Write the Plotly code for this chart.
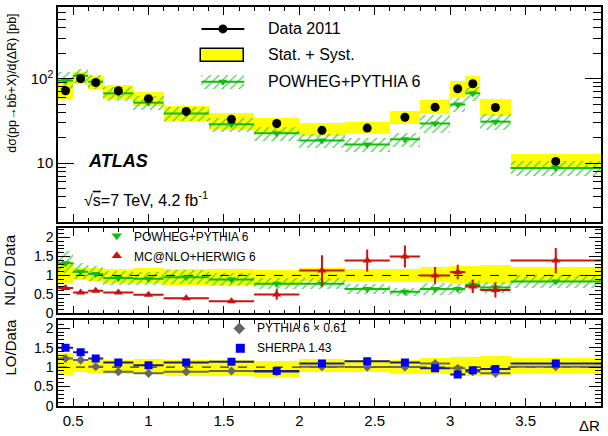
import plotly.graph_objects as go

# ---------------- data ----------------
bin_edges = [0.4, 0.5, 0.6, 0.7, 0.9, 1.1, 1.4, 1.7, 2.0, 2.3, 2.6, 2.8, 3.0, 3.1, 3.2, 3.4, 4.0]

data_xsec = [72, 100, 90, 72, 58, 41, 33, 29.5, 24.5, 26, 35, 46, 76, 87, 45.6, 10.5]
data_lo = [57, 87, 76, 58, 47, 31, 25, 22, 21, 22.5, 28.8, 37.7, 60, 66, 36, 8.8]
data_hi = [97, 121, 108, 85, 70, 48, 39, 34, 29.5, 30.4, 41, 56.6, 95, 108, 58, 12.8]

powheg_xsec = [95, 108, 92, 67, 52, 38.8, 28.8, 22.6, 18.6, 16.7, 19.2, 29.5, 49.4, 67, 31, 8.8]
powheg_up = [1.25, 1.2, 1.2, 1.2, 1.2, 1.2, 1.2, 1.2, 1.2, 1.2, 1.2, 1.25, 1.2, 1.2, 1.22, 1.22]
powheg_dn = [0.8, 0.82, 0.82, 0.82, 0.82, 0.82, 0.82, 0.82, 0.82, 0.82, 0.82, 0.78, 0.82, 0.82, 0.8, 0.8]

powheg_ratio = [1.32, 1.10, 1.04, 0.93, 0.91, 0.95, 0.89, 0.78, 0.78, 0.64, 0.57, 0.64, 0.64, 0.75, 0.68, 0.84]
mcnlo_ratio = [0.67, 0.55, 0.60, 0.55, 0.49, 0.40, 0.32, 0.50, 1.13, 1.39, 1.50, 1.00, 1.09, 0.71, 0.62, 1.39]
mcnlo_err = [0.04, 0.03, 0.04, 0.03, 0.03, 0.03, 0.03, 0.14, 0.40, 0.29, 0.29, 0.22, 0.19, 0.17, 0.20, 0.33]

pythia_ratio = [1.22, 1.18, 1.01, 0.88, 0.84, 0.88, 0.90, 0.88, 1.01, 1.00, 1.00, 1.09, 0.97, 0.88, 0.84, 1.01]
pythia_err = [0.05, 0.04, 0.04, 0.04, 0.03, 0.03, 0.03, 0.03, 0.04, 0.04, 0.04, 0.05, 0.05, 0.05, 0.05, 0.05]
sherpa_ratio = [1.50, 1.38, 1.22, 1.12, 1.05, 1.12, 1.14, 0.90, 1.09, 1.15, 1.12, 0.97, 0.81, 0.92, 0.95, 1.09]
sherpa_err = [0.08, 0.07, 0.07, 0.05, 0.05, 0.05, 0.06, 0.04, 0.05, 0.06, 0.06, 0.06, 0.06, 0.06, 0.07, 0.07]

main_ytick_vals = [10, 100]
main_ytick_text = ["10", "10<sup>2</sup>"]
ratio_tick_vals = [0, 0.5, 1, 1.5, 2]
ratio_tick_text = ["0", "0.5", "1", "1.5", "2"]
x_tick_vals = [0.5, 1, 1.5, 2, 2.5, 3, 3.5]
x_tick_text = ["0.5", "1", "1.5", "2", "2.5", "3", "3.5"]

# ---------------- derived geometry ----------------
centers = [(a + b) / 2 for a, b in zip(bin_edges[:-1], bin_edges[1:])]
widths = [b - a for a, b in zip(bin_edges[:-1], bin_edges[1:])]
halfw = [w / 2 for w in widths]

FONT = "Liberation Sans, Arial, sans-serif"
GREEN = "#11bb11"
GREEN_L = "#44cc44"
RED = "#cc1111"
BLUE = "#0000ee"
NAVY = "#1c1c8c"
GREY = "#666666"
YELLOW = "#ffff00"

W, H = 608, 436
ML, MR, MT, MB = 58, 5, 5, 30
PW, PH = W - ML - MR, H - MT - MB


def px(x):
    return (x - ML) / PW


def py(y):
    return (H - MB - y) / PH


hatch = dict(shape="/", fgcolor=GREEN_L, bgcolor="rgba(0,0,0,0)", size=6, solidity=0.2, fillmode="replace")

fig = go.Figure()

# ---------------- main panel ----------------
fig.add_trace(go.Bar(x=centers, width=widths, base=data_lo,
                     y=[h - l for h, l in zip(data_hi, data_lo)],
                     marker=dict(color=YELLOW, line=dict(width=0)),
                     xaxis="x", yaxis="y", showlegend=False))
pw_lo = [v * d for v, d in zip(powheg_xsec, powheg_dn)]
pw_hi = [v * u for v, u in zip(powheg_xsec, powheg_up)]
fig.add_trace(go.Bar(x=centers, width=widths, base=pw_lo,
                     y=[h - l for h, l in zip(pw_hi, pw_lo)],
                     marker=dict(color="rgba(0,0,0,0)", line=dict(width=0), pattern=hatch),
                     xaxis="x", yaxis="y", showlegend=False))
fig.add_trace(go.Scatter(x=centers, y=powheg_xsec, mode="markers",
                         marker=dict(symbol="triangle-down", size=8, color=GREEN),
                         error_x=dict(type="data", array=halfw, width=0, thickness=2, color=GREEN),
                         xaxis="x", yaxis="y", showlegend=False))
fig.add_trace(go.Scatter(x=centers, y=data_xsec, mode="markers",
                         marker=dict(symbol="circle", size=9, color="black"),
                         xaxis="x", yaxis="y", showlegend=False))

# ---------------- NLO / Data panel ----------------
band_lo = [l / d for l, d in zip(data_lo, data_xsec)]
band_hi = [h / d for h, d in zip(data_hi, data_xsec)]
for ax in ("2", "3"):
    fig.add_trace(go.Bar(x=centers, width=widths, base=band_lo,
                         y=[h - l for h, l in zip(band_hi, band_lo)],
                         marker=dict(color=YELLOW, line=dict(width=0)),
                         xaxis="x" + ax, yaxis="y" + ax, showlegend=False))

pr_lo = [v * d for v, d in zip(powheg_ratio, powheg_dn)]
pr_hi = [v * u for v, u in zip(powheg_ratio, powheg_up)]
fig.add_trace(go.Bar(x=centers, width=widths, base=pr_lo,
                     y=[h - l for h, l in zip(pr_hi, pr_lo)],
                     marker=dict(color="rgba(0,0,0,0)", line=dict(width=0), pattern=hatch),
                     xaxis="x2", yaxis="y2", showlegend=False))
for ax in ("2", "3"):
    fig.add_trace(go.Scatter(x=[bin_edges[0], bin_edges[-1]], y=[1, 1], mode="lines",
                             line=dict(color="black", width=1, dash="dash"),
                             xaxis="x" + ax, yaxis="y" + ax, showlegend=False))
fig.add_trace(go.Scatter(x=centers, y=powheg_ratio, mode="markers",
                         marker=dict(symbol="triangle-down", size=8, color=GREEN),
                         error_x=dict(type="data", array=halfw, width=0, thickness=2, color=GREEN),
                         xaxis="x2", yaxis="y2", showlegend=False))
fig.add_trace(go.Scatter(x=centers, y=mcnlo_ratio, mode="markers",
                         marker=dict(symbol="triangle-up", size=8, color=RED),
                         error_x=dict(type="data", array=halfw, width=0, thickness=2, color=RED),
                         error_y=dict(type="data", array=mcnlo_err, width=0, thickness=2, color=RED),
                         xaxis="x2", yaxis="y2", showlegend=False))

# ---------------- LO / Data panel ----------------
fig.add_trace(go.Scatter(x=centers, y=pythia_ratio, mode="markers",
                         marker=dict(symbol="diamond", size=7, color=GREY),
                         error_x=dict(type="data", array=halfw, width=0, thickness=2, color=GREY),
                         error_y=dict(type="data", array=pythia_err, width=0, thickness=2, color=GREY),
                         xaxis="x3", yaxis="y3", showlegend=False))
fig.add_trace(go.Scatter(x=centers, y=sherpa_ratio, mode="markers",
                         marker=dict(symbol="square", size=8, color=BLUE),
                         error_x=dict(type="data", array=halfw, width=0, thickness=2, color=NAVY),
                         error_y=dict(type="data", array=sherpa_err, width=0, thickness=2, color=BLUE),
                         xaxis="x3", yaxis="y3", showlegend=False))

# ---------------- legend glyphs (pixel overlay axis) ----------------
fig.add_trace(go.Scatter(x=[202, 245], y=[27, 27], mode="lines", line=dict(color="black", width=2),
                         xaxis="x4", yaxis="y4", showlegend=False))
fig.add_trace(go.Scatter(x=[223.5], y=[27], mode="markers", marker=dict(size=9, color="black"),
                         xaxis="x4", yaxis="y4", showlegend=False))
fig.add_trace(go.Bar(x=[223.5], width=[43], base=[47], y=[13],
                     marker=dict(color=YELLOW, line=dict(color="black", width=1.5)),
                     xaxis="x4", yaxis="y4", showlegend=False))
fig.add_trace(go.Bar(x=[223.5], width=[43], base=[73], y=[14],
                     marker=dict(color="rgba(0,0,0,0)", line=dict(width=0), pattern=hatch),
                     xaxis="x4", yaxis="y4", showlegend=False))
fig.add_trace(go.Scatter(x=[202, 245], y=[80, 80], mode="lines", line=dict(color=GREEN, width=2),
                         xaxis="x4", yaxis="y4", showlegend=False))
fig.add_trace(go.Scatter(x=[223.5], y=[80], mode="markers",
                         marker=dict(symbol="triangle-down", size=8, color=GREEN),
                         xaxis="x4", yaxis="y4", showlegend=False))
fig.add_trace(go.Scatter(x=[117], y=[235], mode="markers",
                         marker=dict(symbol="triangle-down", size=9, color=GREEN),
                         xaxis="x4", yaxis="y4", showlegend=False))
fig.add_trace(go.Scatter(x=[117], y=[255], mode="markers",
                         marker=dict(symbol="triangle-up", size=9, color=RED),
                         xaxis="x4", yaxis="y4", showlegend=False))
fig.add_trace(go.Scatter(x=[240], y=[328], mode="markers",
                         marker=dict(symbol="diamond", size=9, color=GREY),
                         xaxis="x4", yaxis="y4", showlegend=False))
fig.add_trace(go.Scatter(x=[241], y=[348], mode="markers",
                         marker=dict(symbol="square", size=9, color=BLUE),
                         xaxis="x4", yaxis="y4", showlegend=False))

# ---------------- axes ----------------
def xaxis_common(anchor, labels=False):
    return dict(domain=[0, 1], anchor=anchor, range=[bin_edges[0], bin_edges[-1]],
                tickmode="array", tickvals=x_tick_vals, ticktext=x_tick_text,
                showticklabels=labels, ticks="inside", ticklen=8, tickwidth=1, tickcolor="black",
                minor=dict(dtick=0.1, tick0=0.4, ticks="inside", ticklen=4, tickwidth=1, tickcolor="black"),
                showline=True, linecolor="black", linewidth=1.5, mirror="ticks",
                showgrid=False, zeroline=False,
                tickfont=dict(family=FONT, size=15, color="black"))


def ratio_yaxis(domain, rng):
    return dict(domain=domain, anchor=None, range=rng,
                tickmode="array", tickvals=ratio_tick_vals, ticktext=ratio_tick_text,
                ticks="inside", ticklen=12, tickwidth=1, tickcolor="black",
                minor=dict(dtick=0.1, tick0=0, ticks="inside", ticklen=6, tickwidth=1, tickcolor="black"),
                showline=True, linecolor="black", linewidth=1.5, mirror="ticks",
                showgrid=False, zeroline=False,
                tickfont=dict(family=FONT, size=14, color="black"))


main_minor = [v * d for d in (1, 10, 100) for v in (2, 3, 4, 5, 6, 7, 8, 9)]
d_main = [py(221), 1.0]
d_nlo = [py(313), py(227)]
d_lo = [0.0, py(320)]

ya2 = ratio_yaxis(d_nlo, [0, 2.25]); ya2["anchor"] = "x2"
ya3 = ratio_yaxis(d_lo, [0, 2.2]); ya3["anchor"] = "x3"

fig.update_layout(
    width=W, height=H, margin=dict(l=ML, r=MR, t=MT, b=MB),
    paper_bgcolor="white", plot_bgcolor="rgba(0,0,0,0)",
    barmode="overlay", bargap=0, showlegend=False,
    xaxis=xaxis_common("y"),
    yaxis=dict(domain=d_main, anchor="x", type="log", range=[0.306, 2.847],
               tickmode="array", tickvals=main_ytick_vals, ticktext=main_ytick_text,
               ticks="inside", ticklen=16, tickwidth=1, tickcolor="black",
               minor=dict(tickmode="array", tickvals=main_minor, ticks="inside", ticklen=8,
                          tickwidth=1, tickcolor="black"),
               showline=True, linecolor="black", linewidth=1.5, mirror="ticks",
               showgrid=False, zeroline=False,
               tickfont=dict(family=FONT, size=15, color="black")),
    xaxis2=xaxis_common("y2"),
    yaxis2=ya2,
    xaxis3=xaxis_common("y3", labels=True),
    yaxis3=ya3,
    xaxis4=dict(domain=[0, 1], anchor="y4", range=[ML, W - MR], visible=False, fixedrange=True),
    yaxis4=dict(domain=[0, 1], anchor="x4", range=[H - MB, MT], visible=False, fixedrange=True),
)

# ---------------- text ----------------
def note(text, x, y, size, xanchor="left", angle=0, **kw):
    fig.add_annotation(text=text, x=px(x), y=py(y), xref="paper", yref="paper",
                       xanchor=xanchor, yanchor="middle", showarrow=False, textangle=angle,
                       font=dict(family=FONT, size=size, color="black"), **kw)


note("Data 2011", 267, 27, 16)
note("Stat. + Syst.", 267, 53, 16)
note("POWHEG+PYTHIA 6", 267, 80, 16)
note("<b><i>ATLAS</i></b>", 86, 160, 18)
note("√<span style='text-decoration:overline'>s</span>=7 TeV, 4.2 fb<sup>-1</sup>", 82, 198, 16)
note("POWHEG+PYTHIA 6", 132, 236, 12)
note("MC@NLO+HERWIG 6", 132, 256, 12)
note("PYTHIA 6 × 0.61", 256, 328, 12)
note("SHERPA 1.43", 256, 348, 12)
note("dσ(pp→bb̄+X)/d(ΔR) [pb]", 11, 82, 12.5, xanchor="center", angle=-90)
note("NLO/ Data", 10, 269, 15, xanchor="center", angle=-90)
note("LO/Data", 10, 347, 15, xanchor="center", angle=-90)
note("ΔR", 604, 426, 15, xanchor="right")

fig.write_html("out.html")
